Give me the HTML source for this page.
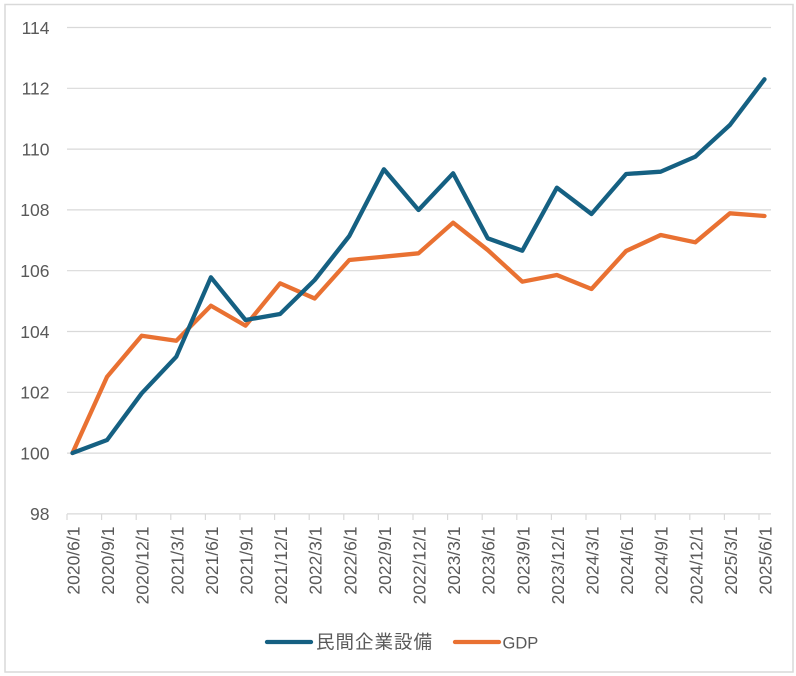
<!DOCTYPE html>
<html>
<head>
<meta charset="utf-8">
<style>
html,body{margin:0;padding:0;background:#fff;}
body{width:796px;height:676px;overflow:hidden;}
svg{display:block;}
text{font-family:"Liberation Sans","Noto Sans CJK JP",sans-serif;fill:#595959;}
</style>
</head>
<body>
<svg width="796" height="676" viewBox="0 0 796 676" xmlns="http://www.w3.org/2000/svg">
<rect x="0" y="0" width="796" height="676" fill="#fff"/>
<rect x="5" y="4.5" width="788" height="667.5" fill="none" stroke="#d9d9d9" stroke-width="1.5"/>
<!-- gridlines -->
<g stroke="#d9d9d9" stroke-width="1.2">
<line x1="67" y1="27.5" x2="771" y2="27.5"/>
<line x1="67" y1="88.3" x2="771" y2="88.3"/>
<line x1="67" y1="149.1" x2="771" y2="149.1"/>
<line x1="67" y1="209.9" x2="771" y2="209.9"/>
<line x1="67" y1="270.7" x2="771" y2="270.7"/>
<line x1="67" y1="331.5" x2="771" y2="331.5"/>
<line x1="67" y1="392.3" x2="771" y2="392.3"/>
<line x1="67" y1="453.1" x2="771" y2="453.1"/>
<line x1="67" y1="513.9" x2="771" y2="513.9"/>
</g>
<!-- ticks -->
<g stroke="#d9d9d9" stroke-width="1.2">
<line x1="67" y1="514" x2="67" y2="520"/>
<line x1="101.6" y1="514" x2="101.6" y2="520"/>
<line x1="136.2" y1="514" x2="136.2" y2="520"/>
<line x1="170.8" y1="514" x2="170.8" y2="520"/>
<line x1="205.4" y1="514" x2="205.4" y2="520"/>
<line x1="240" y1="514" x2="240" y2="520"/>
<line x1="274.6" y1="514" x2="274.6" y2="520"/>
<line x1="309.2" y1="514" x2="309.2" y2="520"/>
<line x1="343.8" y1="514" x2="343.8" y2="520"/>
<line x1="378.4" y1="514" x2="378.4" y2="520"/>
<line x1="413" y1="514" x2="413" y2="520"/>
<line x1="447.6" y1="514" x2="447.6" y2="520"/>
<line x1="482.2" y1="514" x2="482.2" y2="520"/>
<line x1="516.8" y1="514" x2="516.8" y2="520"/>
<line x1="551.4" y1="514" x2="551.4" y2="520"/>
<line x1="586" y1="514" x2="586" y2="520"/>
<line x1="620.6" y1="514" x2="620.6" y2="520"/>
<line x1="655.2" y1="514" x2="655.2" y2="520"/>
<line x1="689.8" y1="514" x2="689.8" y2="520"/>
<line x1="724.4" y1="514" x2="724.4" y2="520"/>
<line x1="759" y1="514" x2="759" y2="520"/>
</g>
<!-- y labels -->
<g font-size="17.5" text-anchor="end">
<text x="49.5" y="33.8">114</text>
<text x="49.5" y="94.6">112</text>
<text x="49.5" y="155.4">110</text>
<text x="49.5" y="216.2">108</text>
<text x="49.5" y="277">106</text>
<text x="49.5" y="337.8">104</text>
<text x="49.5" y="398.6">102</text>
<text x="49.5" y="459.4">100</text>
<text x="49.5" y="520.2">98</text>
</g>
<!-- x labels -->
<g font-size="17.5" text-anchor="end">
<text transform="translate(79.5,526.5) rotate(-90)">2020/6/1</text>
<text transform="translate(114.1,526.5) rotate(-90)">2020/9/1</text>
<text transform="translate(148.7,526.5) rotate(-90)">2020/12/1</text>
<text transform="translate(183.3,526.5) rotate(-90)">2021/3/1</text>
<text transform="translate(217.9,526.5) rotate(-90)">2021/6/1</text>
<text transform="translate(252.5,526.5) rotate(-90)">2021/9/1</text>
<text transform="translate(287.1,526.5) rotate(-90)">2021/12/1</text>
<text transform="translate(321.7,526.5) rotate(-90)">2022/3/1</text>
<text transform="translate(356.3,526.5) rotate(-90)">2022/6/1</text>
<text transform="translate(390.9,526.5) rotate(-90)">2022/9/1</text>
<text transform="translate(425.5,526.5) rotate(-90)">2022/12/1</text>
<text transform="translate(460.1,526.5) rotate(-90)">2023/3/1</text>
<text transform="translate(494.7,526.5) rotate(-90)">2023/6/1</text>
<text transform="translate(529.3,526.5) rotate(-90)">2023/9/1</text>
<text transform="translate(563.9,526.5) rotate(-90)">2023/12/1</text>
<text transform="translate(598.5,526.5) rotate(-90)">2024/3/1</text>
<text transform="translate(633.1,526.5) rotate(-90)">2024/6/1</text>
<text transform="translate(667.7,526.5) rotate(-90)">2024/9/1</text>
<text transform="translate(702.3,526.5) rotate(-90)">2024/12/1</text>
<text transform="translate(736.9,526.5) rotate(-90)">2025/3/1</text>
<text transform="translate(771.5,526.5) rotate(-90)">2025/6/1</text>
</g>
<!-- series -->
<polyline fill="none" stroke="#E97132" stroke-width="4.3" stroke-linejoin="round" stroke-linecap="round"
points="72.5,453 107.1,376.7 141.7,335.7 176.3,340.7 210.9,305.7 245.5,325.7 280.1,283.3 314.7,298.5 349.3,260 383.9,256.7 418.5,253.3 453.1,222.7 487.7,250 522.3,281.7 556.9,275 591.5,289 626.1,251 660.7,235 695.3,242.3 729.9,213.3 764.5,216"/>
<polyline fill="none" stroke="#156082" stroke-width="4.3" stroke-linejoin="round" stroke-linecap="round"
points="72.5,453 107.1,440 141.7,393.3 176.3,356.7 210.9,277.3 245.5,320 280.1,314 314.7,280 349.3,236 383.9,169.3 418.5,210 453.1,173.3 487.7,238.3 522.3,250.7 556.9,187.7 591.5,214 626.1,174 660.7,171.7 695.3,156.7 729.9,125 764.5,79.3"/>
<!-- legend -->
<line x1="267" y1="642" x2="311" y2="642" stroke="#156082" stroke-width="4.3" stroke-linecap="round"/>
<text x="316" y="648.5" font-size="18.5" letter-spacing="1">民間企業設備</text>
<line x1="455" y1="642" x2="499" y2="642" stroke="#E97132" stroke-width="4.3" stroke-linecap="round"/>
<text x="502.5" y="648.5" font-size="16.5">GDP</text>
</svg>
</body>
</html>
